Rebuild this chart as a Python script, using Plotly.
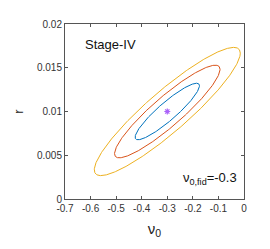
import numpy as np
import plotly.graph_objects as go

# Fiducial point and Fisher-forecast covariance
center = [-0.3, 0.01]          # (nu_0, r)
sigmas = [0.083, 0.00213]      # 1-sigma marginal errors
rho = 0.91                     # correlation coefficient
dchi2_levels = [2.30, 6.18, 11.83]   # 1, 2, 3 sigma (2 d.o.f.)
level_colors = ["#0072BD", "#D95319", "#EDB120"]

x_ticks = [-0.7, -0.6, -0.5, -0.4, -0.3, -0.2, -0.1, 0]
x_tick_labels = ["-0.7", "-0.6", "-0.5", "-0.4", "-0.3", "-0.2", "-0.1", "0"]
y_ticks = [0, 0.005, 0.01, 0.015, 0.02]
y_tick_labels = ["0", "0.005", "0.01", "0.015", "0.02"]

cov = np.array([[sigmas[0] ** 2, rho * sigmas[0] * sigmas[1]],
                [rho * sigmas[0] * sigmas[1], sigmas[1] ** 2]])
L = np.linalg.cholesky(cov)
t = np.linspace(0, 2 * np.pi, 400)
circle = np.vstack([np.cos(t), np.sin(t)])

fig = go.Figure()
for k, col in zip(dchi2_levels, level_colors):
    pts = np.sqrt(k) * (L @ circle)
    fig.add_trace(go.Scatter(x=center[0] + pts[0], y=center[1] + pts[1],
                             mode="lines", line=dict(color=col, width=1),
                             showlegend=False, hoverinfo="skip"))

fig.add_trace(go.Scatter(x=[center[0]], y=[center[1]], mode="markers",
                         marker=dict(symbol="asterisk-open", size=5,
                                     line=dict(color="#7E2F8E", width=1.2)),
                         showlegend=False))

axis_common = dict(showgrid=False, zeroline=False, showline=True, mirror="ticks",
                   linecolor="#555555", linewidth=1, ticks="inside", ticklen=3,
                   tickcolor="#555555", tickfont=dict(size=10, color="#333333"))

fig.update_layout(
    width=262, height=241,
    margin=dict(l=37, r=26, t=10, b=50),
    paper_bgcolor="white", plot_bgcolor="white",
    font=dict(family="Liberation Sans, Arial, sans-serif", color="#222222"),
    xaxis=dict(range=[-0.7, 0], tickvals=x_ticks, ticktext=x_tick_labels,
               title=dict(text="ν<sub>0</sub>", font=dict(size=15), standoff=10),
               **axis_common),
    yaxis=dict(range=[0, 0.02], tickvals=y_ticks, ticktext=y_tick_labels,
               title=dict(text="r", font=dict(size=13), standoff=10),
               **axis_common),
    annotations=[
        dict(text="Stage-IV", x=0.1, y=0.885, xref="paper", yref="paper",
             xanchor="left", yanchor="middle", showarrow=False,
             font=dict(size=13, color="#111111")),
        dict(text="ν<sub>0,fid</sub>=-0.3", x=0.97, y=0.115, xref="paper", yref="paper",
             xanchor="right", yanchor="middle", showarrow=False,
             font=dict(size=13, color="#111111")),
    ],
)

fig.write_html("out.html")
